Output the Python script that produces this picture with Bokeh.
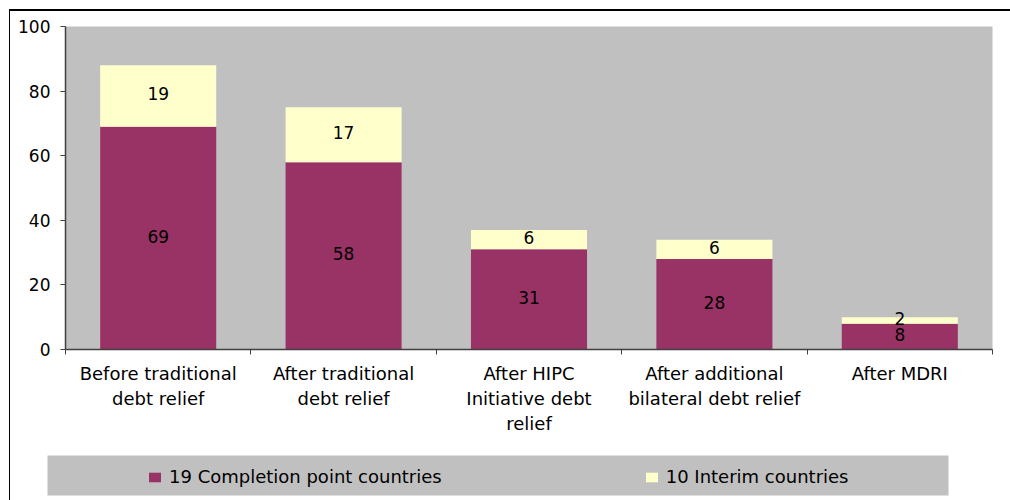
from bokeh.plotting import figure
from bokeh.models import (ColumnDataSource, FactorRange, Range1d, LinearAxis, CategoricalAxis,
                          FixedTicker, Legend, LegendItem, InlineStyleSheet)
from bokeh.layouts import column
from bokeh.core.properties import value
from bokeh.embed import file_html
from bokeh.resources import INLINE

categories = ["Before traditional\ndebt relief", "After traditional\ndebt relief",
              "After HIPC\nInitiative debt\nrelief", "After additional\nbilateral debt relief",
              "After MDRI"]
completion = [69, 58, 31, 28, 8]
interim = [19, 17, 6, 6, 2]
series_names = ["19 Completion point countries", "10 Interim countries"]
y_ticks = [0, 20, 40, 60, 80, 100]

PURPLE = "#993366"
YELLOW = "#FFFFCC"
GRAY = "#C0C0C0"
FONT = "DejaVu Sans"

src = ColumnDataSource(dict(
    cat=categories,
    completion=completion,
    interim=interim,
    mid1=[c / 2 for c in completion],
    mid2=[c + i / 2 for c, i in zip(completion, interim)],
    lab1=[str(c) for c in completion],
    lab2=[str(i) for i in interim],
))

p = figure(width=1010, height=450, x_range=FactorRange(*categories, range_padding=0),
           y_range=Range1d(0, 100), output_backend="svg", toolbar_location=None,
           x_axis_location=None, min_border_left=65, min_border_right=18,
           min_border_top=26, min_border_bottom=101, frame_align=False)
p.background_fill_color = GRAY
p.border_fill_color = None
p.outline_line_color = None
p.xgrid.visible = False
p.ygrid.visible = False

# y axis
ya = p.yaxis[0]
ya.ticker = FixedTicker(ticks=y_ticks)
ya.axis_line_color = "#404040"
ya.axis_line_width = 1.5
ya.major_tick_line_color = "#404040"
ya.major_tick_in = 0
ya.major_tick_out = 5
ya.minor_tick_line_color = None
ya.major_label_standoff = 10
ya.major_label_text_font = FONT
ya.major_label_text_font_size = "17px"
ya.major_label_text_color = "black"

# x axis: boundary ticks
xt = LinearAxis(ticker=FixedTicker(ticks=[0, 1, 2, 3, 4, 5]))
xt.axis_line_color = "#404040"
xt.axis_line_width = 1.5
xt.major_tick_line_color = "#404040"
xt.major_tick_in = 0
xt.major_tick_out = 5
xt.minor_tick_line_color = None
xt.major_label_text_font_size = "1px"
xt.major_label_text_alpha = 0
xt.major_label_standoff = 0
p.add_layout(xt, "below")

xa = CategoricalAxis()
xa.axis_line_color = None
xa.major_tick_line_color = None
xa.minor_tick_line_color = None
xa.major_tick_in = 0
xa.major_tick_out = 0
xa.major_label_standoff = 8
xa.major_label_text_font = FONT
xa.major_label_text_font_size = "18px"
xa.major_label_text_line_height = 1.2
xa.major_label_text_color = "black"
p.add_layout(xa, "below")

p.vbar_stack(["completion", "interim"], x="cat", width=0.626, color=[PURPLE, YELLOW],
             line_color=None, source=src)

p.text(x="cat", y="mid1", text="lab1", source=src, text_align="center", text_baseline="middle",
       y_offset=-2, text_font=value(FONT), text_font_size="17px", text_color="black")
p.text(x="cat", y="mid2", text="lab2", source=src, text_align="center", text_baseline="middle",
       y_offset=-2, text_font=value(FONT), text_font_size="17px", text_color="black")

# legend strip
q = figure(width=1010, height=50, x_range=Range1d(0, 1), y_range=Range1d(0, 1),
           output_backend="svg", toolbar_location=None, x_axis_location=None,
           y_axis_location=None, min_border_left=47, min_border_right=62,
           min_border_top=5, min_border_bottom=5, frame_align=False)
q.background_fill_color = GRAY
q.border_fill_color = None
q.outline_line_color = None
q.xgrid.visible = False
q.ygrid.visible = False
# zero-area swatch renderers, only used to draw the legend glyphs
r1 = q.quad(left=[0], right=[0], top=[0], bottom=[0], color=PURPLE, line_color=None)
r2 = q.quad(left=[0], right=[0], top=[0], bottom=[0], color=YELLOW, line_color=None)
legend = Legend(items=[LegendItem(label=series_names[0], renderers=[r1]),
                       LegendItem(label=series_names[1], renderers=[r2])],
                orientation="horizontal", location=(100, 8), margin=0, padding=0,
                spacing=202, glyph_width=15, glyph_height=12, label_standoff=7,
                label_text_font=FONT, label_text_font_size="18px", label_text_color="black",
                background_fill_alpha=0, border_line_color=None, label_height=12)
q.add_layout(legend, "center")

css = InlineStyleSheet(css=""":host { position: relative; background: white; }
:host::after { content: ''; position: absolute; left: 9px; top: 9px; right: 0; bottom: 0;
  border-left: 1.5px solid black; border-top: 2px solid black; pointer-events: none; z-index: 100; }""")
layout = column(p, q, spacing=0, stylesheets=[css])

open("out.html", "w").write(file_html(layout, INLINE))
